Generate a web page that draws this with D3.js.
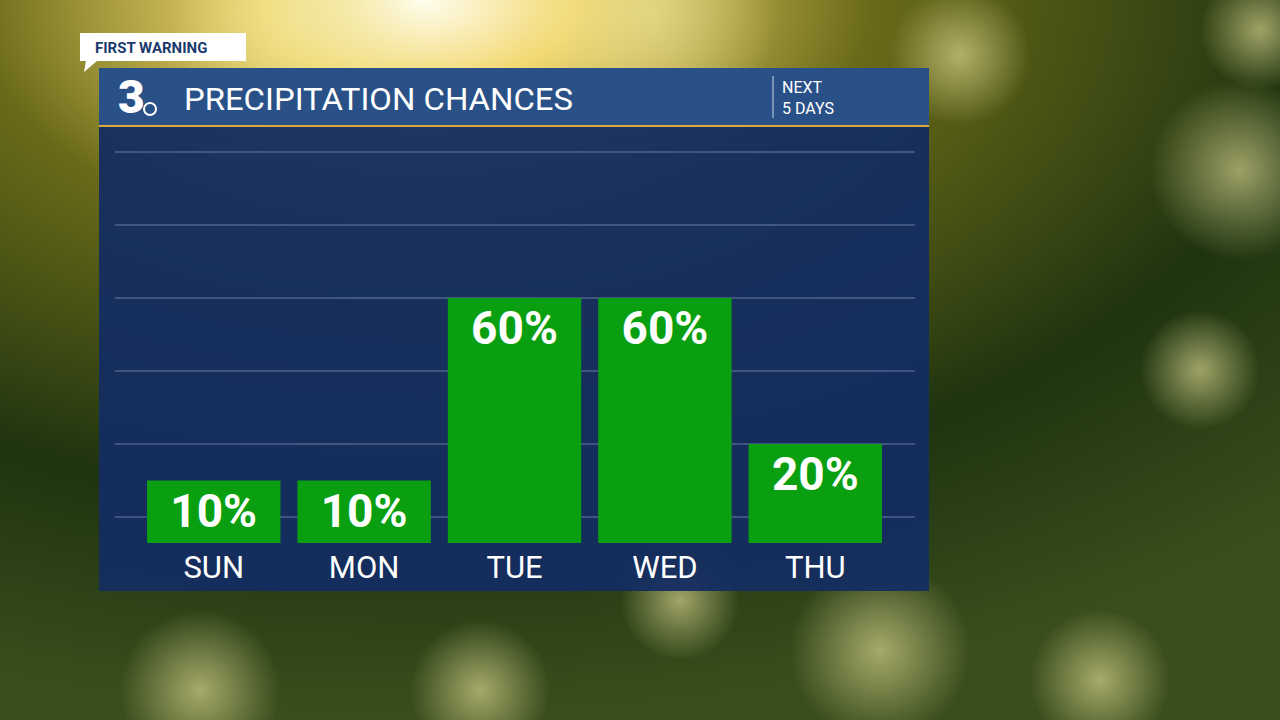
<!DOCTYPE html>
<html><head><meta charset="utf-8">
<script src="https://cdn.jsdelivr.net/npm/d3@7"></script>
<style>body{margin:0;overflow:hidden;background:#000}</style>
</head><body>
<svg id="c" width="1280" height="720"></svg>
<script>
const days = ["SUN","MON","TUE","WED","THU"];
const chances = [10,10,60,60,20];
const gridTicks = [0,20,40,60,80,100];

const svg = d3.select("#c");
const defs = svg.append("defs");
const bg = defs.append("radialGradient").attr("id","bg").attr("cx","0.33").attr("cy","0").attr("r","1");
bg.append("stop").attr("offset","0").attr("stop-color","#fffef0");
bg.append("stop").attr("offset","0.12").attr("stop-color","#f2d870");
bg.append("stop").attr("offset","0.35").attr("stop-color","#6a6a18");
bg.append("stop").attr("offset","0.7").attr("stop-color","#1e3410");
bg.append("stop").attr("offset","1").attr("stop-color","#3a4e1c");
svg.append("rect").attr("width",1280).attr("height",720).attr("fill","url(#bg)");
const bok = defs.append("radialGradient").attr("id","bok");
bok.append("stop").attr("offset","0").attr("stop-color","#f0e8a0").attr("stop-opacity",0.6);
bok.append("stop").attr("offset","1").attr("stop-color","#f0e8a0").attr("stop-opacity",0);
const bokeh = [[300,20,130],[650,10,130],[1240,170,90],[1200,370,60],[960,55,70],[880,650,90],[200,690,80],[1100,680,70],[480,690,70],[1260,30,60],[680,600,60]];
svg.selectAll("circle.bk").data(bokeh).join("circle").attr("cx",d=>d[0]).attr("cy",d=>d[1]).attr("r",d=>d[2]).attr("fill","url(#bok)");

svg.append("rect").attr("x",99).attr("y",126).attr("width",830).attr("height",465).attr("fill","#142d61").attr("opacity",0.94);
svg.append("rect").attr("x",99).attr("y",68).attr("width",830).attr("height",57).attr("fill","#2a5187");
svg.append("rect").attr("x",99).attr("y",125).attr("width",830).attr("height",2).attr("fill","#d9a93a");
svg.append("path").attr("d","M80,33 H246 V61 H97 L84,72 L86,61 H80 Z").attr("fill","#fff");
svg.append("text").attr("x",95).attr("y",53).text("FIRST WARNING").attr("font-family","Roboto").attr("font-weight","bold").attr("font-size",15).attr("fill","#1d3a6e");
svg.append("text").attr("x",118).attr("y",113).text("3").attr("font-family","Roboto").attr("font-weight","900").attr("font-size",46).attr("fill","#fff");
svg.append("circle").attr("cx",150).attr("cy",109).attr("r",6).attr("fill","none").attr("stroke","#fff").attr("stroke-width",2);
svg.append("text").attr("x",184).attr("y",110).text("PRECIPITATION CHANCES").attr("font-family","Roboto").attr("font-size",30.5)
  .attr("textLength",389).attr("lengthAdjust","spacingAndGlyphs").attr("fill","#fff");
svg.append("line").attr("x1",773).attr("x2",773).attr("y1",76).attr("y2",118).attr("stroke","#c8d4e6").attr("stroke-width",1);
svg.append("text").attr("x",782).attr("y",93).text("NEXT").attr("font-family","Roboto").attr("font-size",16).attr("fill","#fff");
svg.append("text").attr("x",782).attr("y",114).text("5 DAYS").attr("font-family","Roboto").attr("font-size",16).attr("fill","#fff");

const y = d3.scaleLinear().domain([0,100]).range([517,152]);
const x = d3.scaleBand().domain(days).range([139.5,889.5]).paddingInner(0.113).paddingOuter(0.05);
svg.selectAll("line.g").data(gridTicks).join("line")
  .attr("x1",115).attr("x2",915).attr("y1",d=>y(d)).attr("y2",d=>y(d))
  .attr("stroke","#5d7196").attr("stroke-width",2).attr("opacity",0.6);

const data = days.map((d,i)=>({d,v:chances[i]}));
svg.selectAll("rect.b").data(data).join("rect")
  .attr("x",d=>x(d.d)).attr("width",x.bandwidth()).attr("y",d=>y(d.v)).attr("height",d=>543-y(d.v))
  .attr("fill","#0a9f10");
svg.selectAll("text.v").data(data).join("text")
  .attr("x",d=>x(d.d)+x.bandwidth()/2).attr("y",d=>y(d.v)+46).attr("text-anchor","middle")
  .text(d=>d.v+"%").attr("font-family","Roboto").attr("font-weight","bold").attr("font-size",46).attr("fill","#fff");
svg.selectAll("text.d").data(data).join("text")
  .attr("x",d=>x(d.d)+x.bandwidth()/2).attr("y",578).attr("text-anchor","middle")
  .text(d=>d.d).attr("font-family","Roboto").attr("font-size",31).attr("fill","#fff");
</script></body></html>
